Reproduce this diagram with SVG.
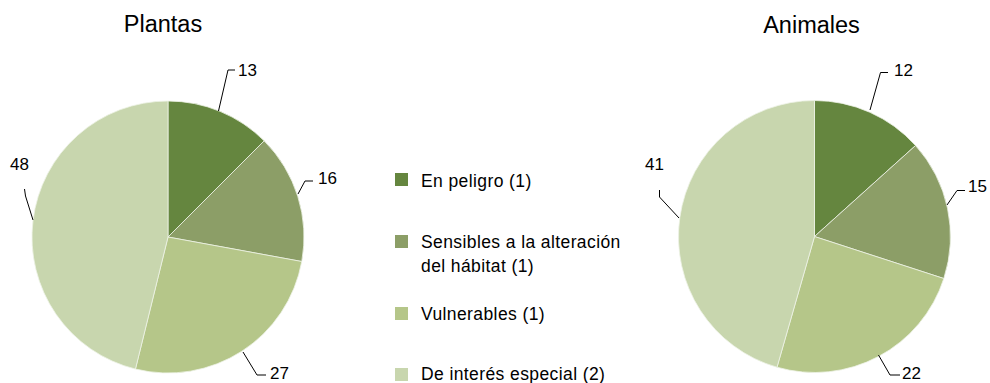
<svg xmlns="http://www.w3.org/2000/svg" width="990" height="383" viewBox="0 0 990 383">
<style>
.t{font-family:"Liberation Sans",Arial,sans-serif;fill:#000}
.title{font-size:23.5px;text-anchor:middle}
.num{font-size:17px}
.leg{font-size:17.5px;letter-spacing:0.4px}
.w{stroke:#eef2e6;stroke-width:0.8;stroke-linejoin:round}
.c1{fill:#65863f}.c2{fill:#8c9e67}.c3{fill:#b5c689}.c4{fill:#c8d6ae}
.ld{fill:none;stroke:#000;stroke-width:1}
</style>
<rect width="990" height="383" fill="#fff"/>
<g id="plantas">
<text class="t title" x="163" y="32">Plantas</text>
<path class="w c1" d="M168,237 L168,101 A136,136 0 0 1 264.17,140.83 Z"/>
<path class="w c2" d="M168,237 L264.17,140.83 A136,136 0 0 1 301.77,261.51 Z"/>
<path class="w c3" d="M168,237 L301.77,261.51 A136,136 0 0 1 135.45,369.05 Z"/>
<path class="w c4" d="M168,237 L135.45,369.05 A136,136 0 0 1 168,101 Z"/>
<text class="t num" x="238" y="76">13</text>
<text class="t num" x="318" y="184">16</text>
<text class="t num" x="270" y="379">27</text>
<text class="t num" x="10" y="170">48</text>
</g>
<g id="animales">
<text class="t title" x="811.5" y="33">Animales</text>
<path class="w c1" d="M814.5,236.5 L814.5,100.5 A136,136 0 0 1 915.57,145.5 Z"/>
<path class="w c2" d="M814.5,236.5 L915.57,145.5 A136,136 0 0 1 943.84,278.53 Z"/>
<path class="w c3" d="M814.5,236.5 L943.84,278.53 A136,136 0 0 1 777.01,367.23 Z"/>
<path class="w c4" d="M814.5,236.5 L777.01,367.23 A136,136 0 0 1 814.5,100.5 Z"/>
<text class="t num" x="894" y="76">12</text>
<text class="t num" x="968" y="192">15</text>
<text class="t num" x="902" y="379">22</text>
<text class="t num" x="645" y="170">41</text>
</g>
<g id="connectors">
<polyline class="ld" points="218.5,111 228,70 235,70"/>
<polyline class="ld" points="298,194 305,181 313,181"/>
<polyline class="ld" points="243,352 257,375 266,375"/>
<polyline class="ld" points="24.5,189 25.5,196 33,220"/>
<polyline class="ld" points="870,110 880.5,72.5 888,72.5"/>
<polyline class="ld" points="947,205 957,190.5 965,190.5"/>
<polyline class="ld" points="878.5,355 890,375 900,375"/>
<polyline class="ld" points="659.5,190 659.5,197 679,218"/>
</g>
<g id="legend">
<g id="leg1"><rect class="c1" x="395" y="173" width="13" height="13"/><text class="t leg" x="421" y="186.5">En peligro (1)</text></g>
<g id="leg2"><rect class="c2" x="395" y="235" width="13" height="13"/><text class="t leg" x="421" y="248">Sensibles a la alteración</text><text class="t leg" x="421" y="272">del hábitat (1)</text></g>
<g id="leg3"><rect class="c3" x="395" y="307" width="13" height="13"/><text class="t leg" x="421" y="320">Vulnerables (1)</text></g>
<g id="leg4"><rect class="c4" x="395" y="368" width="13" height="13"/><text class="t leg" x="421" y="380">De interés especial (2)</text></g>
</g>
</svg>
